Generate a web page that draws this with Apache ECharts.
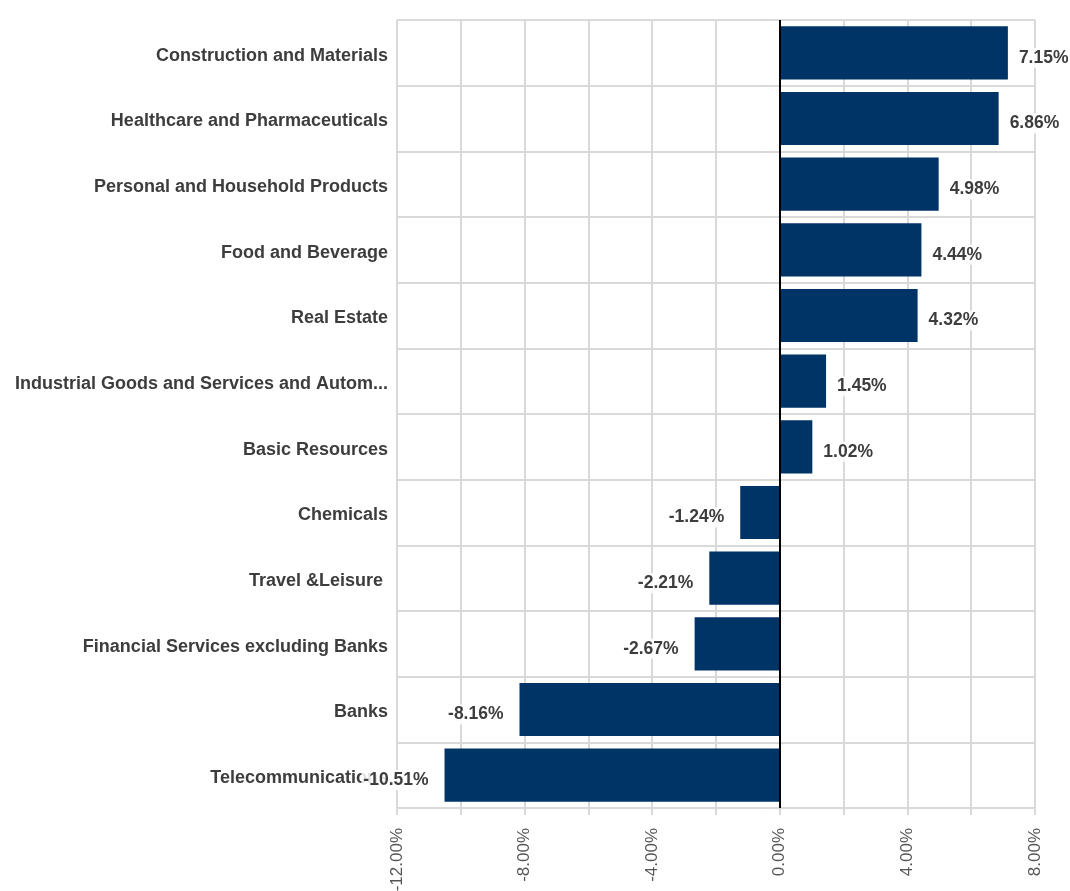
<!DOCTYPE html>
<html>
<head>
<meta charset="utf-8">
<title>Sector performance</title>
<script src="https://cdn.jsdelivr.net/npm/echarts@6/dist/echarts.min.js"></script>
<style>
  html, body { margin: 0; padding: 0; background: #ffffff; }
  #chart { width: 1070px; height: 891px; }
</style>
</head>
<body>
<div id="chart"></div>
<script>
// Sector names, top to bottom
const sectors = [
  'Construction and Materials',
  'Healthcare and Pharmaceuticals',
  'Personal and Household Products',
  'Food and Beverage',
  'Real Estate',
  'Industrial Goods and Services and Automobiles and Parts',
  'Basic Resources',
  'Chemicals',
  'Travel &Leisure ',
  'Financial Services excluding Banks',
  'Banks',
  'Telecommunications'
];

// Percentage change per sector
const changes = [7.15, 6.86, 4.98, 4.44, 4.32, 1.45, 1.02, -1.24, -2.21, -2.67, -8.16, -10.51];

// Value axis range and step (percent)
const axisMin = -12;
const axisMax = 8;
const axisStep = 2;
const labelStep = 4;

const barColor = '#003366';
const gridColor = '#d9d9d9';
const textColor = '#3d3d3d';
const fontFamily = '"Liberation Sans", Arial, sans-serif';

const chart = echarts.init(document.getElementById('chart'), null, { renderer: 'canvas' });

const barData = changes.map(v => ({
  value: v,
  label: {
    position: v >= 0 ? 'right' : 'left',
    distance: v >= 0 ? 9 : 14
  }
}));

chart.setOption({
  animation: false,
  backgroundColor: '#ffffff',
  grid: {
    left: 397, right: 35, top: 20, bottom: 83,
    containLabel: false,
    outerBoundsMode: 'none'
  },
  xAxis: {
    type: 'value',
    min: axisMin,
    max: axisMax,
    interval: axisStep,
    axisLine: { show: true, lineStyle: { color: gridColor, width: 2 } },
    axisTick: { show: true, length: 7, lineStyle: { color: gridColor, width: 2 } },
    splitLine: { show: true, lineStyle: { color: gridColor, width: 2 } },
    axisLabel: {
      rotate: 90,
      margin: 20,
      color: '#555555',
      fontSize: 17,
      fontFamily: fontFamily,
      formatter: v => (Math.round(v) % labelStep === 0 ? v.toFixed(2) + '%' : '')
    }
  },
  yAxis: {
    type: 'category',
    data: sectors,
    inverse: true,
    boundaryGap: true,
    axisLine: { show: false },
    axisTick: { show: true, length: 12, lineStyle: { color: gridColor, width: 2 } },
    splitLine: { show: true, lineStyle: { color: gridColor, width: 2 } },
    axisLabel: {
      margin: 9,
      color: textColor,
      fontSize: 18,
      fontWeight: 'bold',
      fontFamily: fontFamily,
      width: 376,
      overflow: 'truncate',
      ellipsis: '...',
      verticalAlign: 'top',
      lineHeight: 6
    }
  },
  series: [{
    type: 'bar',
    data: barData,
    barCategoryGap: '19%',
    itemStyle: { color: barColor },
    label: {
      show: true,
      color: textColor,
      fontSize: 17.5,
      fontWeight: 'bold',
      fontFamily: fontFamily,
      backgroundColor: 'rgba(255,255,255,0.85)',
      padding: [1, 2],
      offset: [0, 5],
      formatter: p => p.value.toFixed(2) + '%'
    },
    markLine: {
      silent: true,
      symbol: 'none',
      label: { show: false },
      lineStyle: { color: '#000000', width: 2, type: 'solid' },
      data: [{ xAxis: 0 }]
    },
    z: 3
  }]
});
</script>
</body>
</html>
